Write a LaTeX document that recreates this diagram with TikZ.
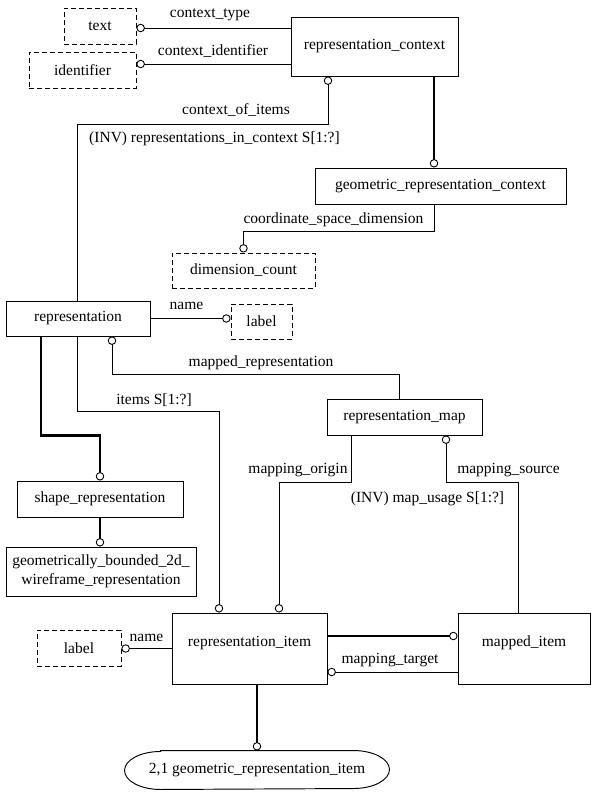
\documentclass[tikz,border=0pt]{standalone}
\usepackage{fontspec}
\setmainfont{Liberation Serif}
\usetikzlibrary{arrows.meta,calc}
\begin{document}
\begin{tikzpicture}[x=1pt,y=-1pt,
  ocirc/.tip={Circle[fill=white,length=8.4pt,width=8.4pt,line width=0.9pt]},
  box/.style={draw,line width=0.95pt,inner sep=0pt,align=center,font=\fontsize{15.5}{19}\selectfont},
  dbox/.style={box,line width=0.9pt,dash pattern=on 5pt off 3pt},
  conn/.style={line width=0.9pt},
  tconn/.style={line width=2.3pt},
  lbl/.style={inner sep=0pt,font=\fontsize{15.5}{19}\selectfont,text height=0.7em,text depth=0.2em}
]
\useasboundingbox (0,0) rectangle (598,797);

% nodes
\node[dbox,minimum width=72pt,minimum height=36pt] (txt) at (100,26) {text};
\node[dbox,minimum width=107pt,minimum height=36pt] (idf) at (82.5,70) {identifier};
\node[box,minimum width=167pt,minimum height=59pt] (rc) at (374.5,46.5) {representation\_context};
\node[box,minimum width=251pt,minimum height=36pt] (grc) at (440.5,186) {geometric\_representation\_context};
\node[dbox,minimum width=143pt,minimum height=35pt] (dc) at (243.5,270.5) {dimension\_count};
\node[box,minimum width=144pt,minimum height=35pt] (rep) at (78,318.5) {representation};
\node[dbox,minimum width=61pt,minimum height=35pt] (lab1) at (261.5,321.5) {label};
\node[box,minimum width=155pt,minimum height=36pt] (rm) at (404.5,417) {representation\_map};
\node[box,minimum width=166pt,minimum height=36pt] (sr) at (100,499) {shape\_representation};
\node[box,minimum width=190pt,minimum height=49pt] (gb) at (101,571.5) {geometrically\_bounded\_2d\_\\wireframe\_representation};
\node[box,minimum width=155pt,minimum height=71pt,text depth=14pt] (ri) at (249.5,648.5) {representation\_item};
\node[box,minimum width=132pt,minimum height=71pt,text depth=14pt] (mi) at (524,648.5) {mapped\_item};
\node[dbox,minimum width=84pt,minimum height=36pt] (lab2) at (79,648) {label};
\node[box,draw=none,minimum width=264pt,minimum height=38pt] (gri) at (257,770) {2,1 geometric\_representation\_item};
\draw[line width=0.95pt] ([xshift=36pt]gri.north west) -- ([xshift=-36pt]gri.north east)
  arc[start angle=90,end angle=-90,x radius=36pt,y radius=19pt]
  -- ([xshift=36pt]gri.south west)
  arc[start angle=270,end angle=90,x radius=36pt,y radius=19pt] -- cycle;

% connectors
\draw[conn,-{ocirc}] ([yshift=18.5pt]rc.west) coordinate (a1) -- (a1 -| txt.east);
\draw[conn,-{ocirc}] ([yshift=-17.5pt]rc.west) coordinate (a2) -- (a2 -| idf.east);
\draw[conn,{ocirc}-] ([xshift=-46.5pt]rc.south) -- ++(0,48) -| ([xshift=-1pt]rep.north);
\draw[tconn,-{ocirc}] ([xshift=59.5pt]rc.south) coordinate (a3) -- (a3 |- grc.north);
\draw[conn,-{ocirc}] ([xshift=-6.5pt]grc.south) -- ++(0,27) -| (dc.north);
\draw[conn,-{ocirc}] (rep.east) -- (rep.east -| lab1.west);
\draw[conn,{ocirc}-] ([xshift=34pt]rep.south) -- ++(0,38) -| ([xshift=-5.5pt]rm.north);
\draw[conn,-{ocirc}] ([xshift=-1pt]rep.south) -- ++(0,75) -| ([xshift=-30.5pt]ri.north);
\draw[tconn,-{ocirc}] ([xshift=-37pt]rep.south) -- ++(0,99) -| (sr.north);
\draw[tconn,-{ocirc}] (sr.south) -- (sr.south |- gb.north);
\draw[conn,-{ocirc}] ([xshift=-53.5pt]rm.south) -- ++(0,47) -| ([xshift=29.5pt]ri.north);
\draw[conn,{ocirc}-] ([xshift=41.5pt]rm.south) -- ++(0,47) -| ([xshift=-6pt]mi.north);
\draw[tconn,-{ocirc}] ([yshift=12.5pt]ri.east) coordinate (b1) -- (b1 -| mi.west);
\draw[conn,{ocirc}-] ([yshift=-23.5pt]ri.east) coordinate (b2) -- (b2 -| mi.west);
\draw[conn,-{ocirc}] (ri.west) -- (ri.west -| lab2.east);
\draw[tconn,-{ocirc}] ([xshift=7.5pt]ri.south) coordinate (b3) -- (b3 |- gri.north);

% labels
\node[lbl] (l1) at (210,15) {context\_type};
\node[lbl] (l2) at (213,53) {context\_identifier};
\node[lbl] (l3) at (236,112) {context\_of\_items};
\node[lbl] (l4) at (214.5,140) {(INV) representations\_in\_context S[1:?]};
\node[lbl] (l5) at (333.5,221) {coordinate\_space\_dimension};
\node[lbl] (l6) at (186.5,307) {name};
\node[lbl] (l7) at (261,364) {mapped\_representation};
\node[lbl] (l8) at (154,402) {items S[1:?]};
\node[lbl] (l9) at (298,471) {mapping\_origin};
\node[lbl] (l10) at (508.5,471) {mapping\_source};
\node[lbl] (l11) at (427.5,500) {(INV) map\_usage S[1:?]};
\node[lbl] (l12) at (390,661) {mapping\_target};
\node[lbl] (l13) at (146.5,639) {name};
\end{tikzpicture}
\end{document}
